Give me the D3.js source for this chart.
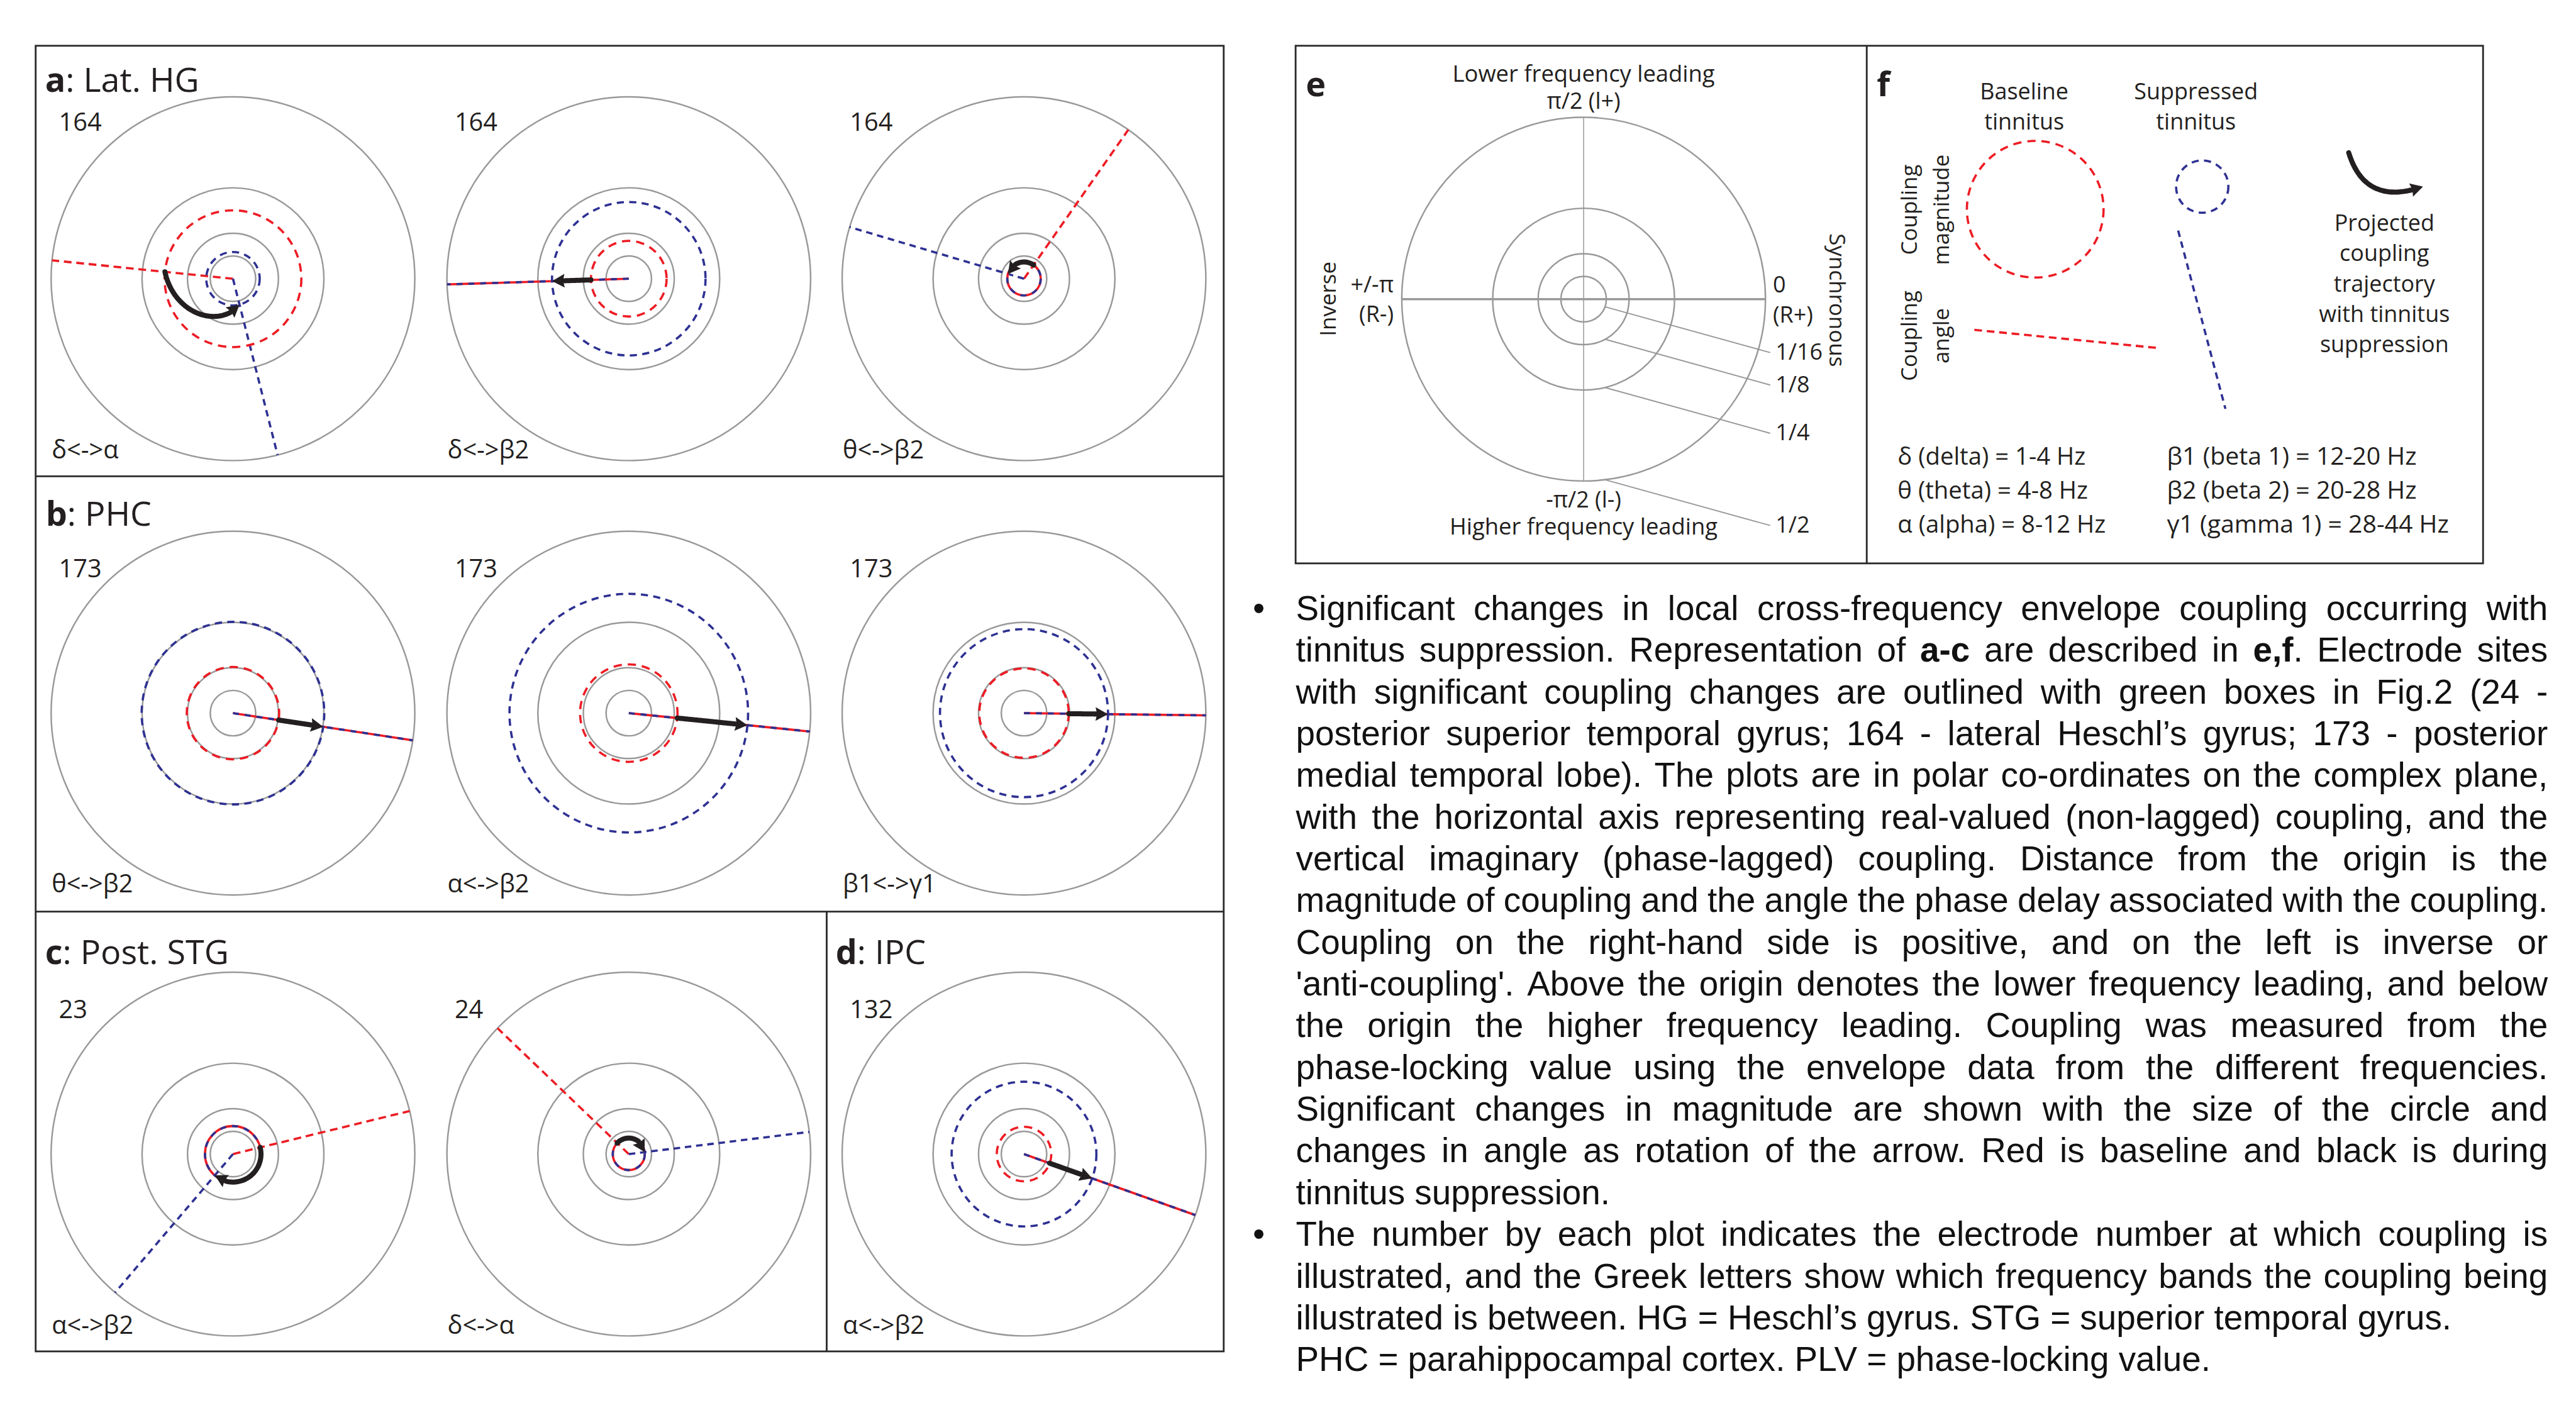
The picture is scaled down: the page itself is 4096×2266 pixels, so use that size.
<!DOCTYPE html>
<html>
<head>
<meta charset="utf-8">
<script src="https://cdn.jsdelivr.net/npm/d3@7"></script>
<style>
body { margin: 0; background: #fff; }
</style>
</head>
<body>
<svg id="fig"></svg>
<script>
var $k = 0.945;
var $red = '#ED1C24', $blue = '#2E3192', $grey = '#999999', $ink = '#231F20';
var $font = '"Open Sans", sans-serif';
var $body = '"Liberation Sans", Arial, sans-serif';

// panels a-d
var panelLetters = ['a', 'b', 'c', 'd'];
var panelNames = ['Lat. HG', 'PHC', 'Post. STG', 'IPC'];
var plotPanel = [0, 0, 0, 1, 1, 1, 2, 2, 3];
var electrodes = ['164', '164', '164', '173', '173', '173', '23', '24', '132'];
var bandPairs = ['δ<->α', 'δ<->β2', 'θ<->β2', 'θ<->β2', 'α<->β2', 'β1<->γ1', 'α<->β2', 'δ<->α', 'α<->β2'];
// coupling magnitude (PLV) and angle (degrees)
var baselineMag = [0.188, 0.104, 0.046, 0.127, 0.134, 0.123, 0.077, 0.044, 0.075];
var suppressedMag = [0.0735, 0.211, 0.046, 0.251, 0.328, 0.231, 0.077, 0.044, 0.199];
var baselineAngle = [174.2, -178.2, 55, -8.6, -5.8, -0.7, 13.7, 136.2, -19.6];
var suppressedAngle = [-75.8, -178.2, 163.5, -8.6, -5.8, -0.7, -130.4, 7, -19.6];

// panel e/f
var ringValues = [1 / 16, 1 / 8, 1 / 4, 1 / 2];
var ringLabels = ['1/16', '1/8', '1/4', '1/2'];
var bandNamesLow = ['δ (delta) = 1-4 Hz', 'θ (theta) = 4-8 Hz', 'α (alpha) = 8-12 Hz'];
var bandNamesHigh = ['β1 (beta 1) = 12-20 Hz', 'β2 (beta 2) = 20-28 Hz', 'γ1 (gamma 1) = 28-44 Hz'];
var trajectoryText = ['Projected', 'coupling', 'trajectory', 'with tinnitus', 'suppression'];

var notesLines = [
    'Significant changes in local cross-frequency envelope coupling occurring with',
    'tinnitus suppression. Representation of *a-c* are described in *e,f*. Electrode sites',
    'with significant coupling changes are outlined with green boxes in Fig.2 (24 -',
    'posterior superior temporal gyrus; 164 - lateral Heschl’s gyrus; 173 - posterior',
    'medial temporal lobe). The plots are in polar co-ordinates on the complex plane,',
    'with the horizontal axis representing real-valued (non-lagged) coupling, and the',
    'vertical imaginary (phase-lagged) coupling. Distance from the origin is the',
    'magnitude of coupling and the angle the phase delay associated with the coupling.',
    'Coupling on the right-hand side is positive, and on the left is inverse or',
    '\'anti-coupling\'. Above the origin denotes the lower frequency leading, and below',
    'the origin the higher frequency leading. Coupling was measured from the',
    'phase-locking value using the envelope data from the different frequencies.',
    'Significant changes in magnitude are shown with the size of the circle and',
    'changes in angle as rotation of the arrow. Red is baseline and black is during',
    'tinnitus suppression.',
    'The number by each plot indicates the electrode number at which coupling is',
    'illustrated, and the Greek letters show which frequency bands the coupling being',
    'illustrated is between. HG = Heschl’s gyrus. STG = superior temporal gyrus.',
    'PHC = parahippocampal cortex. PLV = phase-locking value.'
];
var notesRagged = [14, 17, 18];
var notesBullets = [0, 15];

var $R = 306;
var $colX = [392, 1058, 1723];
var $rowY = [469, 1200, 1942];
var $titleY = [154, 885, 1622, 1622];
var $titleX = [76, 77, 76, 1406];
var $numDy = [-249, -229, -229];

var rScale = d3.scaleLinear().domain([0, 0.5]).range([0, $R]);

function init () {
    var svg = d3.select('#fig').attr('width', 4096).attr('height', 2266);
    svg.append('rect').attr('width', 4096).attr('height', 2266).attr('fill', '#fff');
    var root = svg.append('g').attr('transform', 'scale(' + $k + ')');

    drawFrames(root);
    for (var i = 0; i < electrodes.length; i++) {
        drawPlot(root, i);
    }
    drawLegendE(root);
    drawLegendF(root);
    drawNotes(root);
}

function line (g, x1, y1, x2, y2, color, w) {
    return g.append('line')
        .attr('x1', x1).attr('y1', y1).attr('x2', x2).attr('y2', y2)
        .attr('stroke', color).attr('stroke-width', w);
}

function label (g, x, y, txt, size, anchor) {
    return g.append('text')
        .attr('x', x).attr('y', y)
        .attr('font-family', $font).attr('font-size', size)
        .attr('fill', $ink)
        .attr('text-anchor', anchor || 'start')
        .text(txt);
}

function drawFrames (g) {
    var f = g.append('g').attr('fill', 'none').attr('stroke', '#2a2a2a').attr('stroke-width', 3);
    f.append('rect').attr('x', 60).attr('y', 77).attr('width', 1999).attr('height', 2197);
    line(f, 60, 801.5, 2059, 801.5, '#2a2a2a', 3);
    line(f, 60, 1534, 2059, 1534, '#2a2a2a', 3);
    line(f, 1391, 1534, 1391, 2274, '#2a2a2a', 3);
    f.append('rect').attr('x', 2180).attr('y', 77).attr('width', 1998).attr('height', 871);
    line(f, 3141, 77, 3141, 948, '#2a2a2a', 3);

    panelLetters.forEach(function (p, i) {
        var t = label(g, $titleX[i], $titleY[i], '', 57);
        t.append('tspan').attr('font-weight', 700).text(p);
        t.append('tspan').text(': ' + panelNames[i]);
    });
}

function polar (cx, cy, v, deg) {
    var a = deg * Math.PI / 180;
    return [cx + rScale(v) * Math.cos(a), cy - rScale(v) * Math.sin(a)];
}

function rings (g, cx, cy) {
    g.selectAll(null).data(ringValues).enter().append('circle')
        .attr('cx', cx).attr('cy', cy)
        .attr('r', function (d) { return rScale(d); })
        .attr('fill', 'none').attr('stroke', $grey).attr('stroke-width', 2.6);
}

function dashedPair (g, same, drawRed, drawBlue) {
    if (same) {
        drawRed().attr('stroke-dasharray', null);
        drawBlue().attr('stroke-dasharray', '10 10');
    } else {
        drawRed();
        drawBlue();
    }
}

function drawPlot (root, i) {
    var row = Math.floor(i / 3), col = i % 3;
    var cx = $colX[col], cy = $rowY[row];
    var g = root.append('g');
    rings(g, cx, cy);

    // angle lines
    var pR = polar(cx, cy, 0.5, baselineAngle[i]);
    var pB = polar(cx, cy, 0.5, suppressedAngle[i]);
    var sameAngle = Math.abs(baselineAngle[i] - suppressedAngle[i]) < 0.01;
    dashedPair(g, sameAngle, function () {
        return line(g, cx, cy, pR[0], pR[1], $red, 3.8).attr('stroke-dasharray', '13 8');
    }, function () {
        return line(g, cx, cy, pB[0], pB[1], $blue, 3.8).attr('stroke-dasharray', '11 8');
    });

    // magnitude circles
    var sameMag = Math.abs(baselineMag[i] - suppressedMag[i]) < 0.0001;
    dashedPair(g, sameMag, function () {
        return g.append('circle').attr('cx', cx).attr('cy', cy).attr('r', rScale(baselineMag[i]))
            .attr('fill', 'none').attr('stroke', $red).attr('stroke-width', 3.8)
            .attr('stroke-dasharray', '14 10');
    }, function () {
        return g.append('circle').attr('cx', cx).attr('cy', cy).attr('r', rScale(suppressedMag[i]))
            .attr('fill', 'none').attr('stroke', $blue).attr('stroke-width', 3.8)
            .attr('stroke-dasharray', '12 9');
    });

    // projected trajectory: spiral from baseline to suppressed
    var delta = ((suppressedAngle[i] - baselineAngle[i] + 540) % 360) - 180;
    var pts = d3.range(0, 61).map(function (s) {
        var t = s / 60;
        return polar(cx, cy,
            baselineMag[i] + (suppressedMag[i] - baselineMag[i]) * t,
            baselineAngle[i] + delta * t);
    });
    drawArrow(g, pts, 8.5, 21, 23);

    label(g, cx - 293, cy + $numDy[row], electrodes[i], 42);
    label(g, cx - 305, cy + 302, bandPairs[i], 42);
}

function drawArrow (g, pts, w, headLen, headW) {
    var tip = pts[pts.length - 1];
    var acc = 0, i = pts.length - 1, base = pts[0];
    while (i > 0) {
        var a = pts[i - 1], b = pts[i];
        var seg = Math.hypot(b[0] - a[0], b[1] - a[1]);
        if (acc + seg >= headLen) {
            var t = (headLen - acc) / seg;
            base = [b[0] + (a[0] - b[0]) * t, b[1] + (a[1] - b[1]) * t];
            break;
        }
        acc += seg;
        i--;
    }
    var shaft = pts.slice(0, i).concat([base]);
    g.append('path')
        .attr('d', d3.line().curve(d3.curveCatmullRom)(shaft))
        .attr('fill', 'none').attr('stroke', $ink)
        .attr('stroke-width', w).attr('stroke-linecap', 'round');
    var dx = tip[0] - base[0], dy = tip[1] - base[1], L = Math.hypot(dx, dy) || 1;
    var nx = -dy / L * headW / 2, ny = dx / L * headW / 2;
    var back = [base[0] + dx * 0.12, base[1] + dy * 0.12];
    g.append('path')
        .attr('d', 'M' + tip + 'L' + [base[0] + nx, base[1] + ny] + 'L' + back + 'L' + [base[0] - nx, base[1] - ny] + 'Z')
        .attr('fill', $ink);
}

function drawLegendE (root) {
    var cx = 2664.6, cy = 503.4;
    var g = root.append('g');
    label(g, 2197, 162, 'e', 57).attr('font-weight', 700);
    line(g, cx, cy - $R, cx, cy + $R, $grey, 1.6);
    rings(g, cx, cy);
    line(g, cx - $R, cy, cx + $R, cy, $grey, 3.6);

    ringValues.forEach(function (v, j) {
        var r = rScale(v);
        var x0 = cx + 36, y0 = cy + Math.sqrt(r * r - 36 * 36);
        line(g, x0, y0, cx + 314, y0 + 77, $grey, 2);
        label(g, cx + 323, y0 + 89, ringLabels[j], 38);
    });

    label(g, cx, 137.5, 'Lower frequency leading', 38.5, 'middle');
    label(g, cx, 183.5, 'π/2 (l+)', 38, 'middle');
    label(g, cx, 853.5, '-π/2 (l-)', 38, 'middle');
    label(g, cx, 899.5, 'Higher frequency leading', 38.5, 'middle');
    label(g, 2345, 492, '+/-π', 38, 'end');
    label(g, 2345, 542, '(R-)', 38, 'end');
    label(g, 2983, 492, '0', 38);
    label(g, 2983, 543, '(R+)', 38);
    label(g, 0, 0, 'Inverse', 37, 'middle')
        .attr('transform', 'translate(2248,503) rotate(-90)');
    label(g, 0, 0, 'Synchronous', 37, 'middle')
        .attr('transform', 'translate(3078,505) rotate(90)');
}

function drawLegendF (root) {
    var g = root.append('g');
    label(g, 3158, 162, 'f', 57).attr('font-weight', 700);
    label(g, 3406, 167.5, 'Baseline', 38, 'middle');
    label(g, 3406, 218, 'tinnitus', 38, 'middle');
    label(g, 3695, 167.5, 'Suppressed', 38, 'middle');
    label(g, 3695, 218, 'tinnitus', 38, 'middle');

    label(g, 0, 0, 'Coupling', 37, 'middle').attr('transform', 'translate(3225,353) rotate(-90)');
    label(g, 0, 0, 'magnitude', 37, 'middle').attr('transform', 'translate(3279,353) rotate(-90)');
    label(g, 0, 0, 'Coupling', 37, 'middle').attr('transform', 'translate(3225,565) rotate(-90)');
    label(g, 0, 0, 'angle', 37, 'middle').attr('transform', 'translate(3279,565) rotate(-90)');

    g.append('circle').attr('cx', 3424.5).attr('cy', 352).attr('r', 115)
        .attr('fill', 'none').attr('stroke', $red).attr('stroke-width', 3.8).attr('stroke-dasharray', '14 10');
    g.append('circle').attr('cx', 3705.5).attr('cy', 314).attr('r', 44)
        .attr('fill', 'none').attr('stroke', $blue).attr('stroke-width', 3.8).attr('stroke-dasharray', '12 9');
    line(g, 3322, 555, 3630, 585.5, $red, 3.8).attr('stroke-dasharray', '13 8');
    line(g, 3665, 388, 3744.5, 688, $blue, 3.8).attr('stroke-dasharray', '11 8');

    // sample legend arrow
    var p0 = [3952, 257], p1 = [3980, 348], p2 = [4077, 314];
    var pts = d3.range(0, 41).map(function (s) {
        var t = s / 40, u = 1 - t;
        return [u * u * p0[0] + 2 * u * t * p1[0] + t * t * p2[0],
                u * u * p0[1] + 2 * u * t * p1[1] + t * t * p2[1]];
    });
    drawArrow(g, pts, 8.5, 21, 23);

    trajectoryText.forEach(function (t, j) {
        label(g, 4012, 388.5 + j * 51, t, 38, 'middle');
    });
    bandNamesLow.forEach(function (t, j) {
        label(g, 3193, 782 + j * 57.4, t, 40.5);
    });
    bandNamesHigh.forEach(function (t, j) {
        label(g, 3646, 782 + j * 57.4, t, 41.5);
    });
}

function drawNotes (root) {
    var g = root.append('g').attr('font-family', $body).attr('font-size', 58).attr('fill', '#111');
    var left = 2180.5, right = 4287, top = 1043.5, step = 70.2;
    var bold = false;
    notesLines.forEach(function (ln, j) {
        var y = top + j * step;
        if (notesBullets.indexOf(j) >= 0) {
            g.append('text').attr('x', 2108).attr('y', y).text('•');
        }
        var row = g.append('g');
        var words = ln.split(' ').map(function (w) {
            var t = row.append('text').attr('y', y);
            w.split('*').forEach(function (part, n) {
                if (n > 0) bold = !bold;
                if (part.length) t.append('tspan').attr('font-weight', bold ? 700 : 400).text(part);
            });
            return {node: t, w: t.node().getComputedTextLength()};
        });
        var total = d3.sum(words, function (d) { return d.w; });
        var minGap = 10;
        var ragged = notesRagged.indexOf(j) >= 0 || words.length < 2;
        var gap = ragged ? 16 : Math.max(minGap, (right - left - total) / (words.length - 1));
        var x = left;
        words.forEach(function (d) {
            d.node.attr('x', x);
            x += d.w + gap;
        });
        var natural = x - gap - left;
        if (!ragged && natural > right - left) {
            // squeeze an overfull line to the column, as the source does
            var sx = (right - left) / natural;
            row.attr('transform', 'translate(' + left + ',0) scale(' + sx + ',1) translate(' + (-left) + ',0)');
        }
    });
}

init();
</script>
</body>
</html>
